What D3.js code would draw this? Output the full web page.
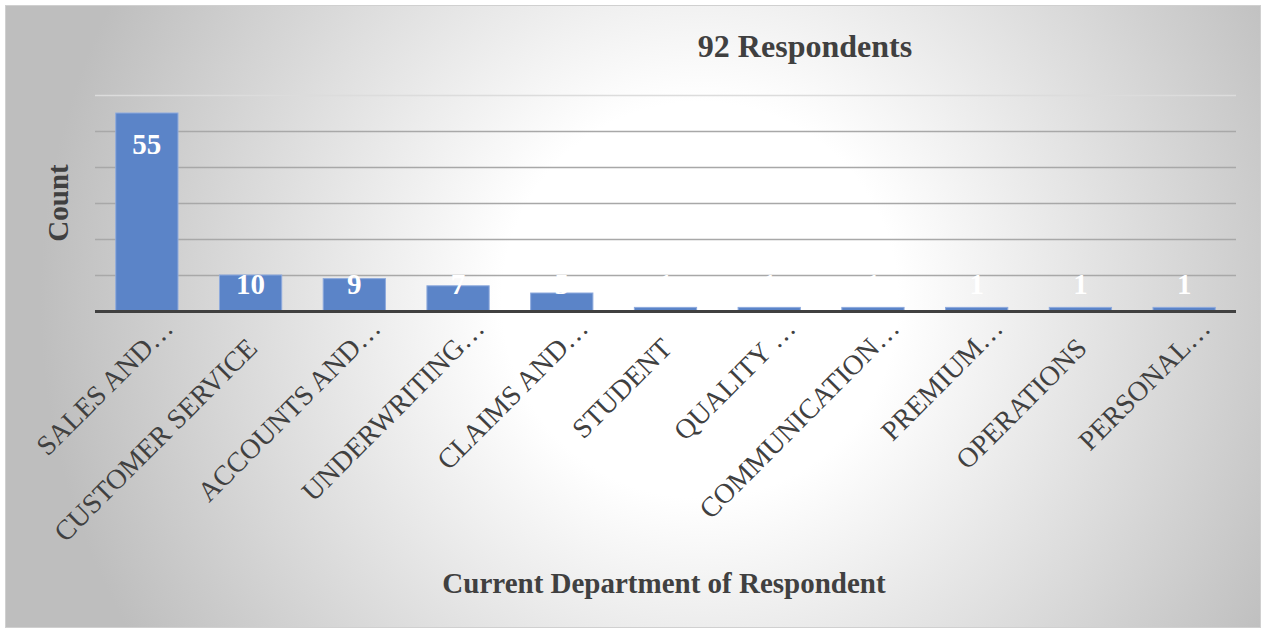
<!DOCTYPE html>
<html>
<head>
<meta charset="utf-8">
<script src="https://cdn.jsdelivr.net/npm/d3@7"></script>
<style>
  html, body { margin: 0; padding: 0; background: #ffffff; }
  svg { display: block; }
</style>
</head>
<body>
<svg id="chart" width="1266" height="631"></svg>
<script>
// ---- data ----
const categories = ["SALES AND…", "CUSTOMER SERVICE", "ACCOUNTS AND…", "UNDERWRITING…", "CLAIMS AND…",
  "STUDENT", "QUALITY …", "COMMUNICATION…", "PREMIUM…", "OPERATIONS", "PERSONAL…"];
const counts = [55, 10, 9, 7, 5, 1, 1, 1, 1, 1, 1];
const yTicks = [0, 10, 20, 30, 40, 50, 60];
const chartTitle = "92 Respondents";
const xTitle = "Current Department of Respondent";
const yTitle = "Count";

// ---- layout ----
const W = 1266, H = 631;
const plot = { left: 95, right: 1236, top: 95, bottom: 311 };
const FONT = "'Liberation Serif', 'Times New Roman', Times, serif";
const TEXT = "#404040";

const svg = d3.select("#chart");
const defs = svg.append("defs");
const grad = defs.append("radialGradient")
  .attr("id", "bg").attr("gradientUnits", "userSpaceOnUse")
  .attr("cx", 700).attr("cy", 300).attr("r", 660);
grad.append("stop").attr("offset", 0.3).attr("stop-color", "#ffffff");
grad.append("stop").attr("offset", 1).attr("stop-color", "#bebebe");

svg.append("rect").attr("x", 5.5).attr("y", 5.5).attr("width", W - 11).attr("height", H - 9)
  .attr("fill", "url(#bg)").attr("stroke", "#d0d0d0").attr("stroke-width", 1);

const x = d3.scaleBand().domain(categories).range([plot.left, plot.right])
  .paddingInner(0.4).paddingOuter(0.2);
const y = d3.scaleLinear().domain([0, 60]).range([plot.bottom, plot.top]);

// gridlines
const grid = svg.append("g").attr("transform", `translate(${plot.left},0)`)
  .call(d3.axisLeft(y).tickValues(yTicks.slice(1)).tickSize(-(plot.right - plot.left)).tickFormat(""));
grid.select(".domain").remove();
grid.selectAll(".tick line")
  .attr("stroke", d => d === 60 ? "#dcdcdc" : "#a8a8a8")
  .attr("stroke-width", 1.3);

// bars
svg.append("g").selectAll("rect").data(counts).join("rect")
  .attr("x", (d, i) => x(categories[i]))
  .attr("y", d => y(d))
  .attr("width", x.bandwidth())
  .attr("height", d => y(0) - y(d))
  .attr("fill", "#5b84c8")
  .attr("stroke", "#8eaadd")
  .attr("stroke-width", 1);

// baseline axis with category labels
const xAxis = svg.append("g").attr("transform", `translate(0,${plot.bottom})`)
  .call(d3.axisBottom(x).tickSize(0));
xAxis.select(".domain").remove();
svg.append("line").attr("x1", plot.left).attr("x2", plot.right)
  .attr("y1", plot.bottom + 0.5).attr("y2", plot.bottom + 0.5)
  .attr("stroke", "#404040").attr("stroke-width", 3);
xAxis.selectAll(".tick text")
  .attr("font-family", FONT).attr("font-size", 28).attr("fill", TEXT)
  .attr("text-anchor", "end")
  .attr("y", 0).attr("dy", 0)
  .attr("dx", d => d.endsWith("…") ? "0" : "-1em")
  .attr("transform", "translate(28,19) rotate(-45)");

// data labels
svg.append("g").selectAll("text").data(counts).join("text")
  .attr("x", (d, i) => x(categories[i]) + x.bandwidth() / 2)
  .attr("y", d => Math.min(y(d) + 41, plot.bottom - 17))
  .attr("text-anchor", "middle")
  .attr("font-family", FONT).attr("font-size", 29).attr("font-weight", "bold")
  .attr("fill", "#ffffff")
  .text(d => d);

// titles
svg.append("text").attr("x", 805).attr("y", 57).attr("text-anchor", "middle")
  .attr("font-family", FONT).attr("font-size", 32).attr("font-weight", "bold").attr("fill", TEXT)
  .text(chartTitle);
svg.append("text").attr("x", 664).attr("y", 593).attr("text-anchor", "middle")
  .attr("font-family", FONT).attr("font-size", 29).attr("font-weight", "bold").attr("fill", TEXT)
  .text(xTitle);
svg.append("text").attr("transform", "translate(68,203) rotate(-90)").attr("text-anchor", "middle")
  .attr("font-family", FONT).attr("font-size", 29).attr("font-weight", "bold").attr("fill", TEXT)
  .text(yTitle);
</script>
</body>
</html>
